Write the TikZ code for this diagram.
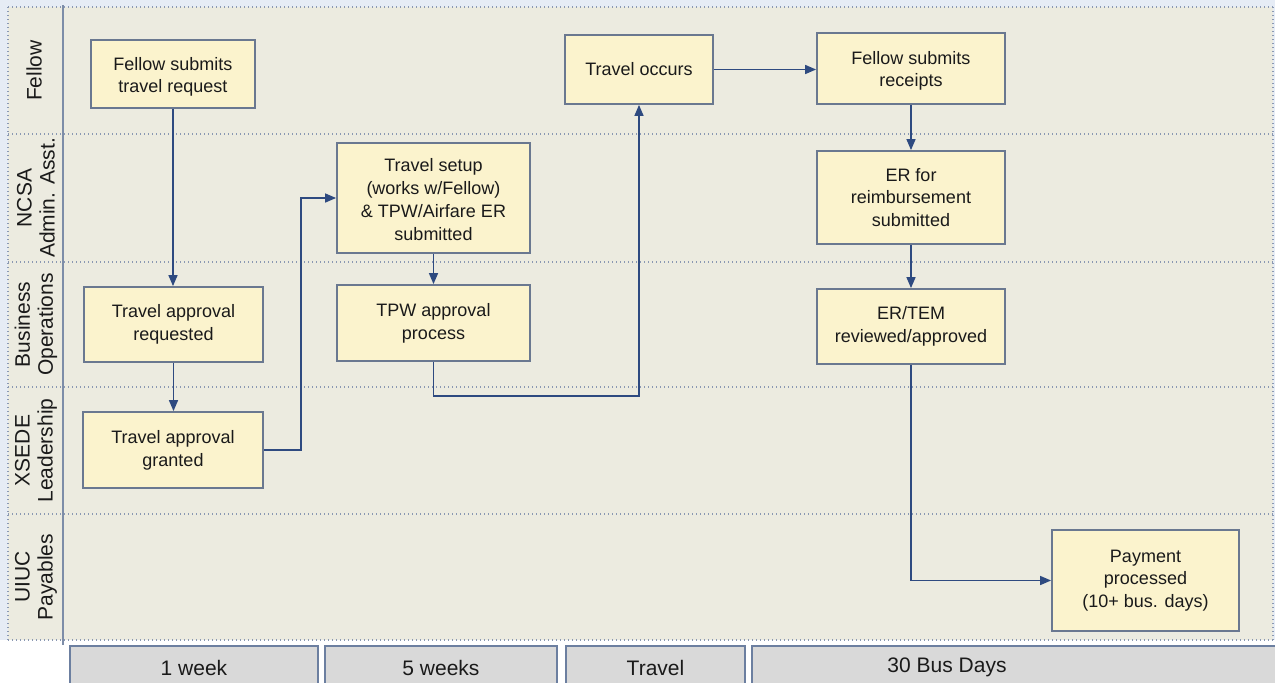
\documentclass[tikz,border=0pt]{standalone}
\usepackage{fontspec}
\setmainfont{Liberation Sans}
\usetikzlibrary{arrows.meta}
\definecolor{lanebg}{HTML}{ECEBE0}
\definecolor{outbg}{HTML}{E6ECF5}
\definecolor{boxfill}{HTML}{FBF3CD}
\definecolor{boxline}{HTML}{6A7890}
\definecolor{arrowc}{HTML}{2E4A80}
\definecolor{dotc}{HTML}{8A98B2}
\definecolor{vline}{HTML}{7D8DA8}
\definecolor{barfill}{HTML}{D9D9D9}
\definecolor{barline}{HTML}{6C7FA0}
\definecolor{txt}{HTML}{1A1A1A}
\newcommand\loweredtext[2]{\raisebox{0pt}[\dimexpr\height+#1\relax][\depth]{\begin{tabular}{@{}c@{}}#2\end{tabular}}}
\tikzset{
  stepbox/.style={draw=boxline, line width=1.8pt, fill=boxfill, align=center, inner sep=0pt,
    text=txt, font=\fontsize{18}{22.8}\selectfont},
  lanelabel/.style={rotate=90, align=center, text=txt, inner sep=0pt,
    font=\fontsize{21}{23}\selectfont},
  timebar/.style={draw=barline, line width=1.5pt, fill=barfill, anchor=north, minimum height=45pt,
    inner sep=0pt, text=txt, font=\fontsize{21}{24}\selectfont},
  timetext/.style={inner sep=0pt, text=txt, font=\fontsize{21}{24}\selectfont},
  flow/.style={draw=arrowc, line width=1.5pt, -{Triangle[length=11pt,width=9pt]}},
  sep/.style={draw=dotc, line width=1.3pt, dash pattern=on 1.3pt off 2.7pt}
}
\begin{document}
\begin{tikzpicture}[x=1pt,y=-1pt]
\useasboundingbox (0,0) rectangle (1275,683);
% backgrounds
\fill[outbg] (0,0) rectangle (1275,683);
\fill[white] (0,640) rectangle (1275,683);
\fill[lanebg] (8,7) rectangle (1273,640);
% lane separators
\foreach \yy in {7,134,262,387,514,640} \draw[sep] (8,\yy) -- (1273,\yy);
\draw[sep] (8,7) -- (8,640);
\draw[sep] (1273,7) -- (1273,640);
\draw[draw=vline, line width=1.8pt] (63,5) -- (63,645);
% lane labels
\node[lanelabel] (lfellow) at (34,70.5) {Fellow};
\node[lanelabel] (lncsa) at (36,198) {NCSA\\Admin. Asst.};
\node[lanelabel] (lbus) at (36,324.5) {Business\\Operations};
\node[lanelabel] (lxsede) at (36,450.5) {XSEDE\\Leadership};
\node[lanelabel] (luiuc) at (36,577) {UIUC\\Payables};
% process boxes
\node[stepbox, minimum width=164pt, minimum height=68pt] (req) at (173,74) {\loweredtext{6pt}{Fellow submits\\travel request}};
\node[stepbox, minimum width=148pt, minimum height=69pt] (occurs) at (639,69.5) {Travel occurs};
\node[stepbox, minimum width=188pt, minimum height=71pt] (receipts) at (911,68.5) {\loweredtext{5pt}{Fellow submits\\receipts}};
\node[stepbox, minimum width=193pt, minimum height=110pt] (setup) at (433.5,198) {\loweredtext{7pt}{Travel setup\\(works w/Fellow)\\\& TPW/Airfare ER\\submitted}};
\node[stepbox, minimum width=188pt, minimum height=93pt] (er) at (911,197.5) {ER for\\reimbursement\\submitted};
\node[stepbox, minimum width=179pt, minimum height=75pt] (appreq) at (173.5,324.5) {Travel approval\\requested};
\node[stepbox, minimum width=193pt, minimum height=76pt] (tpw) at (433.5,323) {TPW approval\\process};
\node[stepbox, minimum width=188pt, minimum height=75pt] (ertem) at (911,326.5) {ER/TEM\\reviewed/approved};
\node[stepbox, minimum width=180pt, minimum height=76pt] (granted) at (173,450) {Travel approval\\granted};
\node[stepbox, minimum width=187pt, minimum height=101pt] (payment) at (1145.5,580.5) {Payment\\processed\\(10+ bus. days)};
% connectors
\draw[flow] (req.south) -- (req.south |- appreq.north);
\draw[flow] (appreq.south) -- (appreq.south |- granted.north);
\draw[flow] (granted.east) -- ++(37,0) |- (setup.west);
\draw[flow] (setup.south) -- (tpw.north);
\draw[flow] (tpw.south) -- ++(0,34) -| (occurs.south);
\draw[flow] (occurs.east) -- (occurs.east -| receipts.west);
\draw[flow] (receipts.south) -- (er.north);
\draw[flow] (er.south) -- (ertem.north);
\draw[flow] (ertem.south) |- (payment.west);
% time bars
\node[timebar, minimum width=248pt] (t1) at (194,645) {1 week};
\node[timebar, minimum width=232pt] (t2) at (441,645) {5 weeks};
\node[timebar, minimum width=179pt] (t3) at (655.5,645) {Travel};
\node[timebar, minimum width=530pt] (t4) at (1017,645) {};
\node[timetext] (t4text) at (947,667.5) {30 Bus Days};
\end{tikzpicture}
\end{document}
